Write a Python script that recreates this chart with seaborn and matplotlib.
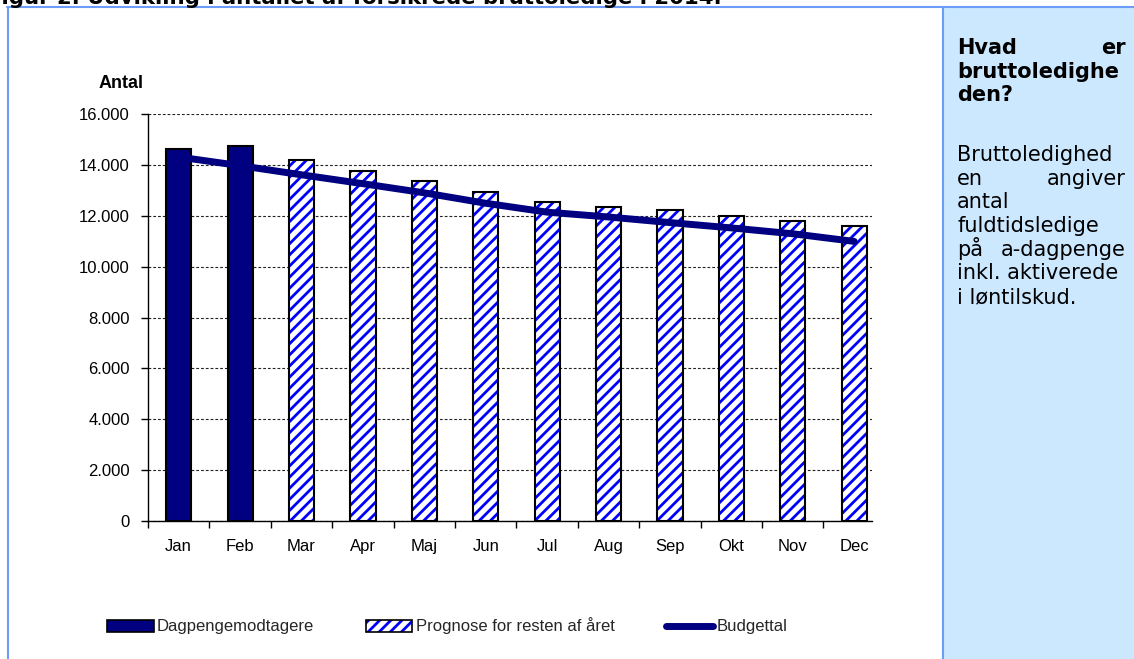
import numpy as np
import pandas as pd
import matplotlib
matplotlib.use("Agg")
import matplotlib.pyplot as plt
import seaborn as sns
from matplotlib.patches import Patch, Rectangle
from matplotlib.lines import Line2D
from matplotlib.legend_handler import HandlerTuple
from matplotlib import font_manager as fm
from matplotlib.ticker import FuncFormatter, FixedLocator

# ---------------- data ----------------
months = ["Jan", "Feb", "Mar", "Apr", "Maj", "Jun", "Jul", "Aug", "Sep", "Okt", "Nov", "Dec"]
actual_values = [14630, 14740]                      # Jan, Feb
forecast_values = [14190, 13770, 13360, 12950, 12540, 12360, 12220, 11990, 11790, 11590]
budget_values = [14320, 13980, 13620, 13270, 12910, 12500, 12150, 11960, 11740, 11530, 11300, 11000]
series_labels = ["Dagpengemodtagere", "Prognose for resten af året", "Budgettal"]
y_ticks = [0, 2000, 4000, 6000, 8000, 10000, 12000, 14000, 16000]
y_label = "Antal"
title_text = "Figur 2. Udvikling i antallet af forsikrede bruttoledige i 2014."
info_bold = [("Hvad", "er"), ("bruttoledighe", None), ("den?", None)]
info_body = [("Bruttoledighed", None), ("en", "angiver"), ("antal", None),
             ("fuldtidsledige", None), ("på", "a-dagpenge"), ("inkl. aktiverede", None),
             ("i løntilskud.", None)]

# ---------------- style ----------------
sns.set_theme(style="ticks")
names = {f.name for f in fm.fontManager.ttflist}
if "Liberation Sans Narrow" in names:
    chart_font, chart_size = "Liberation Sans Narrow", 13.5
else:
    chart_font, chart_size = "Liberation Sans", 12
plt.rcParams["font.family"] = [chart_font, "DejaVu Sans"]
plt.rcParams["hatch.linewidth"] = 2.0

NAVY = "#000080"
BLUE = "#0000ff"
FRAME = "#6b9cf7"
PANEL = "#cce8ff"

W, H = 1134, 659
fig = plt.figure(figsize=(W / 100, H / 100), dpi=100)
fig.patch.set_facecolor("white")

def fx(px):
    return px / W

def fy(py):
    return 1 - py / H

# right info panel + frame
fig.patches.append(Rectangle((fx(943), 0), fx(W - 943), fy(8), transform=fig.transFigure,
                             facecolor=PANEL, edgecolor="none", zorder=0))
fig.add_artist(Line2D([fx(7), 1], [fy(7), fy(7)], color=FRAME, lw=1.5, transform=fig.transFigure))
fig.add_artist(Line2D([fx(8), fx(8)], [fy(7), 0], color=FRAME, lw=1.5, transform=fig.transFigure))
fig.add_artist(Line2D([fx(942.5), fx(942.5)], [fy(7), 0], color=FRAME, lw=1.5, transform=fig.transFigure))

# title (clipped at the top edge, as in the source page)
fig.text(fx(722), fy(3.5), title_text, ha="right", va="baseline", fontsize=15.3,
         fontweight="bold", family="DejaVu Sans", color="black")

# ---------------- chart ----------------
ax = fig.add_axes([fx(148), fy(521), fx(872 - 148), (521 - 114.3) / H])
ax.set_facecolor("white")

df = pd.DataFrame({
    "month": months,
    "value": actual_values + forecast_values,
    "kind": [series_labels[0]] * len(actual_values) + [series_labels[1]] * len(forecast_values),
})

sns.barplot(data=df, x="month", y="value", hue="kind", order=months,
            hue_order=series_labels[:2], palette=[NAVY, "white"], dodge=False,
            width=0.41, linewidth=0, saturation=1, legend=False, errorbar=None, ax=ax)
for bar in ax.containers[1]:
    bar.set_hatch("///")
    bar.set_edgecolor(BLUE)
    bar.set_linewidth(0)

# black outlines
sns.barplot(data=df, x="month", y="value", order=months, fill=False, color="black",
            width=0.41, linewidth=1.5, errorbar=None, ax=ax)

sns.lineplot(x=months, y=budget_values, sort=False, color=NAVY, linewidth=5,
             solid_capstyle="round", ax=ax)

ax.set_xlabel("")
ax.set_ylabel("")
ax.set_xlim(-0.5, 11.29)
ax.set_ylim(0, 16000)
ax.set_yticks(y_ticks)
ax.yaxis.set_major_formatter(FuncFormatter(lambda v, p: f"{int(v):,}".replace(",", ".")))
ax.set_xticks(range(len(months)))
ax.set_xticklabels(months)
ax.xaxis.set_minor_locator(FixedLocator(np.arange(-0.5, len(months), 1.0)))
ax.tick_params(axis="x", which="major", length=0, pad=13, labelsize=chart_size, colors="black")
ax.tick_params(axis="x", which="minor", length=5, width=1, color="black", direction="out", bottom=True)
ax.tick_params(axis="y", which="major", length=5, width=1, color="black", direction="out",
               pad=8, labelsize=chart_size, labelcolor="black", left=True)
ax.grid(axis="y", which="major", color="#222222", linestyle=(0, (2.5, 1.8)), linewidth=0.8)
ax.grid(axis="x", visible=False)
ax.set_axisbelow(True)
for s in ["top", "right"]:
    ax.spines[s].set_visible(False)
for s in ["left", "bottom"]:
    ax.spines[s].set_color("black")
    ax.spines[s].set_linewidth(1)

fig.text(fx(99), fy(88), y_label, ha="left", va="baseline", fontsize=chart_size + 1,
         fontweight="bold", color="black")

# legend
h1 = Patch(facecolor=NAVY, edgecolor="black", linewidth=1.2)
h2 = (Patch(facecolor="white", edgecolor=BLUE, hatch="///", linewidth=0),
      Patch(fill=False, edgecolor="black", linewidth=1.2))
h3 = Line2D([], [], color=NAVY, linewidth=5, solid_capstyle="round")
fig.legend([h1, h2, h3], series_labels, loc="center", bbox_to_anchor=(fx(447), fy(626)),
           ncol=3, frameon=False, fontsize=chart_size,
           handler_map={tuple: HandlerTuple(ndivide=1, pad=0)},
           handlelength=2.8, handleheight=0.75, handletextpad=0.2, columnspacing=3.1)

# info panel text
left_x, right_x = fx(957), fx(1126)
bold_base = [54, 78, 101]
body_base = [161, 185, 208, 232, 256, 279, 303]
for (a, b), yb in zip(info_bold, bold_base):
    fig.text(left_x, fy(yb), a, ha="left", va="baseline", fontsize=15, fontweight="bold",
             family="DejaVu Sans", color="black")
    if b:
        fig.text(right_x, fy(yb), b, ha="right", va="baseline", fontsize=15, fontweight="bold",
                 family="DejaVu Sans", color="black")
for (a, b), yb in zip(info_body, body_base):
    fig.text(left_x, fy(yb), a, ha="left", va="baseline", fontsize=15,
             family="DejaVu Sans", color="black")
    if b:
        fig.text(right_x, fy(yb), b, ha="right", va="baseline", fontsize=15,
                 family="DejaVu Sans", color="black")

fig.savefig("out.png", dpi=100)
